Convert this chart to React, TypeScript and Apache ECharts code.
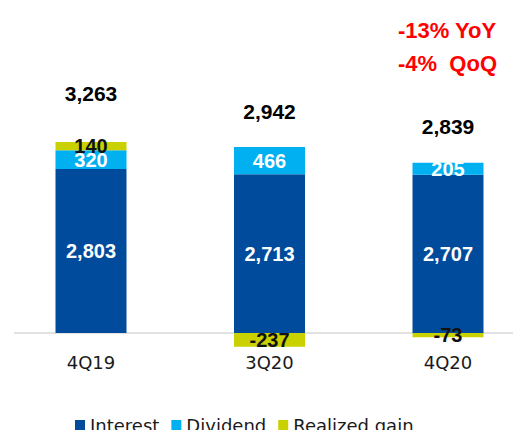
import React, { useEffect, useRef } from "react";
import * as echarts from "echarts";

const categories = ["4Q19", "3Q20", "4Q20"];
const interest = [2803, 2713, 2707];
const dividend = [320, 466, 205];
const realizedGain = [140, -237, -73];
const totals = [3263, 2942, 2839];
const growthNotes = ["-13% YoY", "-4%  QoQ"];
const seriesNames = ["Interest", "Dividend", "Realized gain"];

const COLORS = ["#004B9B", "#00B0F0", "#C9D200"];
const BOLD_FONT = "'Liberation Sans', Arial, sans-serif";
const PLAIN_FONT = "'DejaVu Sans', sans-serif";

const Y_MIN = -1000;
const Y_MAX = 5000;
const GRID_TOP = 40.5;
const GRID_BOTTOM = 38.5;
const CHART_H = 430;

const fmt = (v: number) => v.toLocaleString("en-US");

export default function App() {
  const ref = useRef<HTMLDivElement>(null);

  useEffect(() => {
    if (!ref.current) return;
    const chart = echarts.init(ref.current, null, { renderer: "svg" });

    const gridH = CHART_H - GRID_TOP - GRID_BOTTOM;
    const zeroFromBottom = (-Y_MIN / (Y_MAX - Y_MIN)) * gridH;

    const barLabel = (color: string) => ({
      show: true,
      position: "inside",
      color,
      fontFamily: BOLD_FONT,
      fontWeight: "bold",
      fontSize: 20,
      formatter: (p: any) => fmt(p.value),
    });

    const option: any = {
      animation: false,
      backgroundColor: "#ffffff",
      grid: {
        left: 1.75,
        right: -24.25,
        top: GRID_TOP,
        bottom: GRID_BOTTOM,
        containLabel: false,
        outerBoundsMode: "none",
      },
      legend: {
        data: seriesNames,
        left: 70,
        top: 411,
        itemWidth: 10,
        itemHeight: 10,
        itemGap: 12,
        icon: "rect",
        textStyle: { fontFamily: PLAIN_FONT, fontSize: 18, color: "#1a1a1a" },
      },
      xAxis: {
        type: "category",
        data: categories,
        offset: -zeroFromBottom,
        axisLine: { show: false, onZero: false },
        axisTick: { show: false },
        axisLabel: {
          margin: 20,
          fontFamily: PLAIN_FONT,
          fontSize: 18,
          color: "#1a1a1a",
        },
        splitLine: { show: false },
      },
      yAxis: {
        type: "value",
        min: Y_MIN,
        max: Y_MAX,
        show: false,
        splitLine: { show: false },
      },
      series: [
        {
          name: seriesNames[0],
          type: "bar",
          stack: "total",
          barWidth: 71,
          data: interest,
          itemStyle: { color: COLORS[0] },
          label: barLabel("#ffffff"),
        },
        {
          name: seriesNames[1],
          type: "bar",
          stack: "total",
          barWidth: 71,
          data: dividend,
          itemStyle: { color: COLORS[1] },
          label: barLabel("#ffffff"),
        },
        {
          name: seriesNames[2],
          type: "bar",
          stack: "total",
          barWidth: 71,
          data: realizedGain,
          itemStyle: { color: COLORS[2] },
          label: barLabel("#111111"),
        },
        {
          name: "Total",
          type: "scatter",
          symbolSize: 1,
          itemStyle: { color: "rgba(0,0,0,0)" },
          emphasis: { disabled: true },
          data: totals.map((v, i) => ({
            value: v,
            label: i === 2 ? { offset: [0, 9] } : {},
          })),
          label: {
            show: true,
            position: "top",
            distance: 38,
            color: "#000000",
            opacity: 1,
            fontFamily: BOLD_FONT,
            fontWeight: "bold",
            fontSize: 21,
            formatter: (p: any) => fmt(p.value),
          },
          z: 5,
        },
      ],
    };

    chart.setOption(option);

    const y0 = chart.convertToPixel({ yAxisIndex: 0 }, 0) as number;
    chart.setOption({
      graphic: [
        {
          type: "line",
          z: -1,
          shape: { x1: 14, y1: y0, x2: 513, y2: y0 },
          style: { stroke: "#D9D9D9", lineWidth: 1.5 },
        },
        ...growthNotes.map((t, i) => ({
          type: "text",
          left: 398,
          top: 19 + i * 33,
          style: {
            text: t,
            fill: "#FF0000",
            font: `bold 22px ${BOLD_FONT}`,
          },
        })),
      ],
    });

    return () => chart.dispose();
  }, []);

  return (
    <div
      ref={ref}
      style={{ position: "fixed", left: 0, top: 0, width: 513, height: 430 }}
    />
  );
}
